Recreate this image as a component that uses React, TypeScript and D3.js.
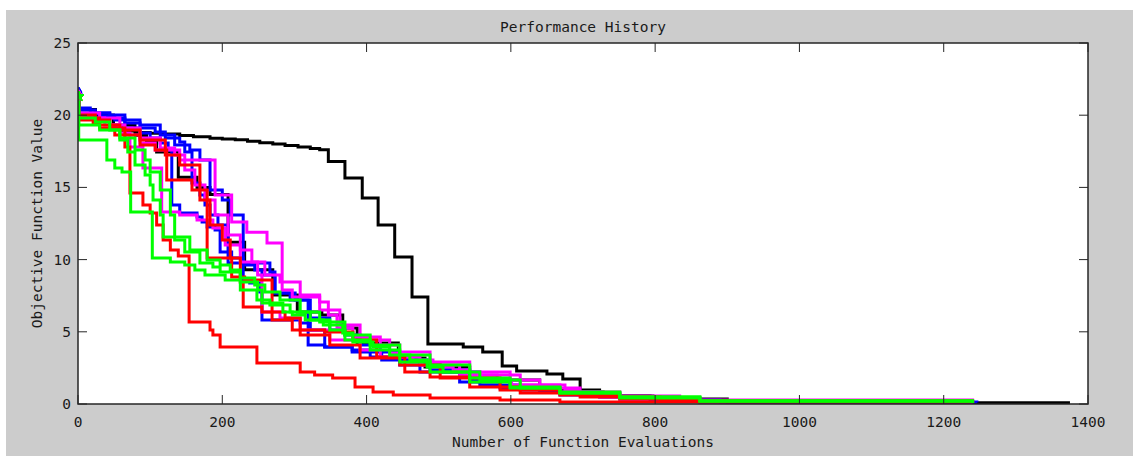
import React from 'react';
import * as d3 from 'd3';

const xTicks = [0, 200, 400, 600, 800, 1000, 1200, 1400];
const yTicks = [0, 5, 10, 15, 20, 25];

const blackLong: [number, number][] = [[0,21.4],[1,20.4],[24,20.0],[49,19.3],[79,18.8],[100,18.75],[120,18.7],[141,18.6],[160,18.5],[183,18.4],[200,18.35],[218,18.3],[235,18.2],[252,18.1],[270,18.0],[287,17.9],[305,17.8],[322,17.7],[335,17.6],[347,16.8],[370,15.65],[394,14.27],[416,12.4],[439,10.18],[463,7.41],[485,4.16],[534,3.95],[561,3.6],[588,2.63],[608,2.29],[650,2.08],[672,1.73],[696,0.83],[728,0.55],[797,0.35],[900,0.2],[960,0.08],[1375,0.08]];
const blackShort: [number, number][] = [[0,21.4],[1,20.4],[24,20.0],[49,19.3],[60,18.9],[80,18.6],[95,18.2],[109,17.45],[139,15.7],[165,15.0],[183,14.5],[208,11.2],[231,9.3],[270,7.55],[304,6.37],[338,6.16],[367,5.26],[387,4.22],[444,3.19],[481,2.56],[543,1.66],[640,0.97],[723,0.55],[793,0.2],[900,0.1],[1240,0.08]];

const blueA: [number, number][] = [[0,21.4],[1,20.15],[19,20.08],[30,19.94],[51,19.67],[65,19.11],[86,18.77],[100,18.42],[114,18.07],[125,17.59],[130,13.78],[141,13.23],[165,12.95],[172,12.6],[179,12.26],[190,12.05],[197,10.53],[213,10.11],[229,8.59],[238,8.38],[252,7.76],[255,5.82],[308,5.61],[322,5.12],[342,3.95],[380,3.6],[421,3.05],[474,2.22],[529,1.52],[585,1.11],[640,0.83],[723,0.48],[807,0.28],[890,0.14],[1240,0.08]];
const blueB: [number, number][] = [[0,21.6],[1,20.36],[24,20.15],[44,19.8],[65,19.46],[86,19.11],[107,18.84],[121,18.42],[141,18.14],[148,17.45],[158,15.3],[169,14.47],[176,13.78],[183,13.09],[194,12.4],[208,9.76],[231,9.63],[245,9.28],[255,8.93],[273,7.69],[294,7.2],[319,4.09],[342,3.95],[380,3.74],[405,3.25],[446,2.7],[502,2.22],[557,1.32],[613,0.97],[668,0.62],[751,0.35],[862,0.14],[1246,0.1]];
const blueC: [number, number][] = [[0,21.5],[1,20.5],[17,20.15],[44,20.01],[65,19.67],[86,19.32],[114,18.63],[134,17.94],[155,17.59],[169,16.9],[183,14.82],[200,14.13],[211,13.09],[229,9.76],[266,9.14],[273,7.69],[301,7.2],[322,5.96],[349,5.12],[370,4.78],[391,4.09],[419,3.6],[446,3.05],[488,2.35],[543,1.66],[599,1.25],[668,0.76],[751,0.42],[862,0.21],[1240,0.08]];

const magentaA: [number, number][] = [[0,21.4],[1,19.8],[24,19.67],[44,19.32],[65,18.63],[86,18.07],[107,17.59],[141,16.9],[190,14.47],[213,12.6],[234,11.9],[262,11.15],[283,7.9],[297,7.41],[335,7.06],[347,6.16],[359,5.26],[381,4.64],[405,4.43],[432,3.53],[446,3.25],[464,3.05],[492,2.56],[520,2.35],[539,2.01],[581,1.66],[601,1.32],[675,0.97],[693,0.62],[751,0.35],[862,0.14],[1240,0.08]];
const magentaB: [number, number][] = [[0,21.4],[1,20.01],[17,19.8],[37,19.32],[58,18.77],[72,17.8],[90,16.34],[116,13.3],[141,13.09],[165,12.74],[187,12.19],[204,11.01],[225,9.83],[249,8.93],[255,6.37],[280,5.96],[308,5.12],[349,4.43],[391,3.74],[419,3.25],[474,2.7],[529,2.01],[613,1.32],[668,0.83],[723,0.48],[834,0.21],[1240,0.08]];
const magentaC: [number, number][] = [[0,21.4],[1,20.15],[30,19.8],[58,19.11],[86,18.42],[114,17.73],[134,17.24],[148,16.2],[162,15.17],[176,14.13],[190,13.09],[208,11.7],[225,10.66],[241,9.83],[259,8.93],[280,8.45],[308,7.55],[335,6.51],[363,5.47],[391,4.64],[419,4.09],[446,3.6],[488,2.91],[543,2.22],[599,1.66],[640,1.11],[696,0.83],[751,0.55],[834,0.28],[1240,0.08]];

const redA: [number, number][] = [[0,21.3],[1,19.67],[21,19.46],[30,19.11],[51,18.63],[65,17.8],[72,14.61],[90,13.78],[100,13.23],[109,12.4],[118,11.36],[128,10.66],[139,10.25],[154,5.68],[183,5.12],[187,4.78],[197,3.95],[248,2.84],[308,2.22],[328,2.01],[353,1.8],[384,1.18],[409,0.83],[437,0.62],[488,0.42],[585,0.28],[668,0.14],[1240,0.07]];
const redB: [number, number][] = [[0,21.3],[1,20.01],[24,19.67],[44,19.11],[65,18.63],[86,17.94],[107,17.59],[123,15.51],[158,14.82],[179,10.11],[213,8.79],[231,8.59],[269,5.82],[297,5.12],[342,4.99],[381,4.43],[414,3.25],[453,2.22],[488,1.87],[543,1.18],[613,0.76],[696,0.48],[807,0.21],[1240,0.07]];
const redC: [number, number][] = [[0,21.3],[1,19.8],[30,19.32],[58,18.97],[86,18.28],[121,17.24],[141,16.55],[169,14.13],[183,12.4],[200,11.36],[211,10.11],[225,8.45],[229,6.72],[255,6.37],[287,5.96],[308,4.78],[349,4.09],[391,3.19],[446,2.7],[502,1.8],[585,0.97],[668,0.62],[751,0.35],[862,0.21],[1240,0.07]];

const greenA: [number, number][] = [[0,21.3],[1,18.28],[40,16.9],[51,16.34],[61,16.07],[73,13.3],[103,10.11],[128,9.83],[148,9.63],[162,9.28],[176,8.93],[204,8.59],[225,7.89],[248,7.2],[266,6.86],[294,6.37],[322,5.82],[349,5.12],[370,4.43],[405,3.74],[446,2.91],[488,2.22],[543,1.52],[599,1.11],[668,0.76],[751,0.42],[862,0.21],[1240,0.07]];
const greenB: [number, number][] = [[0,21.3],[1,19.8],[24,19.53],[44,18.97],[58,18.28],[69,17.45],[79,16.55],[93,15.86],[100,15.17],[104,14.13],[114,13.09],[118,11.56],[155,10.66],[179,9.97],[197,9.63],[211,9.28],[225,8.73],[245,8.24],[259,7.76],[280,7.2],[308,6.37],[335,5.68],[370,4.78],[405,4.09],[446,3.39],[488,2.7],[543,1.8],[599,1.18],[668,0.76],[751,0.48],[862,0.21],[1240,0.07]];
const greenC: [number, number][] = [[0,21.3],[1,19.32],[30,18.97],[58,18.42],[79,17.59],[93,16.9],[100,16.07],[114,14.82],[128,13.09],[134,11.36],[148,10.53],[169,9.76],[187,9.49],[197,9.14],[225,8.45],[249,7.89],[255,6.99],[284,6.37],[297,6.16],[315,5.82],[340,5.47],[367,4.92],[381,4.29],[409,3.95],[432,3.39],[460,3.05],[484,2.56],[506,2.22],[557,1.66],[613,1.11],[668,0.83],[751,0.48],[862,0.21],[1240,0.07]];

const seriesList = [
  { data: blackLong, color: '#000000', marker: 'circle' },
  { data: blackShort, color: '#000000', marker: 'circle' },
  { data: blueA, color: '#0000ff', marker: 'diamond' },
  { data: blueB, color: '#0000ff', marker: 'diamond' },
  { data: blueC, color: '#0000ff', marker: 'diamond' },
  { data: magentaA, color: '#ff00ff', marker: 'diamond' },
  { data: magentaB, color: '#ff00ff', marker: 'diamond' },
  { data: magentaC, color: '#ff00ff', marker: 'diamond' },
  { data: redA, color: '#ff0000', marker: 'star' },
  { data: redB, color: '#ff0000', marker: 'star' },
  { data: redC, color: '#ff0000', marker: 'star' },
  { data: greenA, color: '#00ff00', marker: 'star' },
  { data: greenB, color: '#00ff00', marker: 'star' },
  { data: greenC, color: '#00ff00', marker: 'star' },
];

const W = 1133, H = 456;
const L = 78, R = 1088, T = 43, B = 404;
const FONT = '"DejaVu Sans Mono", monospace';

export default function App() {
  const x = d3.scaleLinear().domain([0, 1400]).range([L, R]);
  const y = d3.scaleLinear().domain([0, 25]).range([B, T]);
  const line = d3.line<[number, number]>().x(d => x(d[0])).y(d => y(d[1])).curve(d3.curveStepAfter);
  const symType = (m: string) => m === 'diamond' ? d3.symbolDiamond : m === 'star' ? d3.symbolStar : d3.symbolCircle;
  const axisColor = '#262626';
  const tick = 9;
  return (
    <svg width={W} height={H} style={{ position: 'absolute', left: 0, top: 0, background: '#ffffff' }}>
      <rect x={6} y={10} width={W - 6} height={H - 10} fill="#cccccc" />
      <rect x={L} y={T} width={R - L} height={B - T} fill="#ffffff" />
      <defs>
        <clipPath id="plotclip"><rect x={L} y={T - 6} width={R - L} height={B - T + 6} /></clipPath>
      </defs>
      <g clipPath="url(#plotclip)">
        {seriesList.map((s, i) => (
          <path key={i} d={line(s.data) || ''} fill="none" stroke={s.color} strokeWidth={3} strokeLinejoin="miter" />
        ))}
        {seriesList.map((s, i) => (
          <path key={'m' + i} d={d3.symbol().type(symType(s.marker)).size(30)() || ''}
            transform={`translate(${x(s.data[0][0]) + 1},${y(s.data[0][1])})`} fill={s.color} stroke={s.color} strokeWidth={1} />
        ))}
      </g>
      <rect x={L} y={T} width={R - L} height={B - T} fill="none" stroke={axisColor} strokeWidth={1.5} />
      {xTicks.map(t => (
        <g key={'xt' + t}>
          <line x1={x(t)} x2={x(t)} y1={B} y2={B - tick} stroke={axisColor} />
          <line x1={x(t)} x2={x(t)} y1={T} y2={T + tick} stroke={axisColor} />
          <text x={x(t)} y={427} textAnchor="middle" fontFamily={FONT} fontSize={14.5} fill="#1a1a1a">{t}</text>
        </g>
      ))}
      {yTicks.map(t => (
        <g key={'yt' + t}>
          <line x1={L} x2={L + tick} y1={y(t)} y2={y(t)} stroke={axisColor} />
          <line x1={R} x2={R - tick} y1={y(t)} y2={y(t)} stroke={axisColor} />
          <text x={71} y={y(t) + 5} textAnchor="end" fontFamily={FONT} fontSize={14.5} fill="#1a1a1a">{t}</text>
        </g>
      ))}
      <text x={(L + R) / 2} y={32} textAnchor="middle" fontFamily={FONT} fontSize={14.5} fill="#1a1a1a">Performance History</text>
      <text x={(L + R) / 2} y={447} textAnchor="middle" fontFamily={FONT} fontSize={14.5} fill="#1a1a1a">Number of Function Evaluations</text>
      <text transform={`translate(42,${(T + B) / 2}) rotate(-90)`} textAnchor="middle" fontFamily={FONT} fontSize={14.5} fill="#1a1a1a">Objective Function Value</text>
    </svg>
  );
}
